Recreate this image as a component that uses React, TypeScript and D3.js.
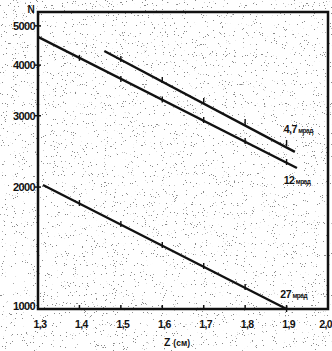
import * as d3 from 'd3';
import { useEffect, useRef } from 'react';

// (N on log scale vs Z in cm)
const zTicks = [1.3, 1.4, 1.5, 1.6, 1.7, 1.8, 1.9, 2.0];
const nTicks = [1000, 2000, 3000, 4000, 5000];

// line end points
const line47Z = [1.46, 1.92];
const line47N = [4335, 2442];
const line12Z = [1.3, 1.925];
const line12N = [4695, 2229];
const line27Z = [1.312, 1.9];
const line27N = [2024, 1000];

// marked measurement points
const pts47Z = [1.5, 1.6, 1.7, 1.8, 1.9];
const pts47N = [4143, 3675, 3263, 2896, 2570];
const pts12Z = [1.4, 1.5, 1.6, 1.7, 1.8, 1.9];
const pts12N = [4168, 3698, 3290, 2929, 2598, 2306];
const pts27Z = [1.4, 1.5, 1.6, 1.7, 1.8, 1.9];
const pts27N = [1827, 1622, 1439, 1277, 1133, 1000];

const labels = [
    { num: '4,7', unit: 'мрад', z: 1.893, n: 2720 },
    { num: '12', unit: 'мрад', z: 1.893, n: 2040 },
    { num: '27', unit: 'мрад', z: 1.885, n: 1065 },
];

const App = () => {
    const svgRef = useRef(null);

    useEffect(() => {
        const width = 332;
        const height = 351;
        const left = 38;
        const right = 328;
        const top = 12;
        const bottom = 309;

        const svg = d3.select(svgRef.current);
        svg.selectAll('*').remove();
        svg.attr('width', width).attr('height', height);

        const font = '"Liberation Sans", Arial, sans-serif';

        // scanned paper speckle (sparse dark dots)
        const defs = svg.append('defs');
        const filter = defs.append('filter').attr('id', 'speckle').attr('x', 0).attr('y', 0).attr('width', 1).attr('height', 1);
        filter.append('feTurbulence')
            .attr('type', 'fractalNoise')
            .attr('baseFrequency', 0.9)
            .attr('numOctaves', 2)
            .attr('seed', 7)
            .attr('result', 'noise');
        filter.append('feColorMatrix')
            .attr('in', 'noise')
            .attr('type', 'matrix')
            .attr('values', '0 0 0 0 0.15  0 0 0 0 0.15  0 0 0 0 0.15  -30 0 0 0 8.8');

        svg.append('rect').attr('width', width).attr('height', height).attr('fill', '#fff');
        svg.append('rect').attr('width', width).attr('height', height).attr('filter', 'url(#speckle)').attr('opacity', 0.8);

        const x = d3.scaleLinear().domain([1.3, 2.0]).range([left, right]);
        const y = d3.scaleLog().domain([1000, 5410]).range([bottom, top]);

        // frame
        svg.append('rect')
            .attr('x', left)
            .attr('y', top)
            .attr('width', right - left)
            .attr('height', bottom - top)
            .attr('fill', 'none')
            .attr('stroke', '#111')
            .attr('stroke-width', 2.5);

        // x ticks (inside)
        svg.append('g')
            .selectAll('line')
            .data(zTicks.slice(1, -1))
            .enter()
            .append('line')
            .attr('x1', (d) => x(d))
            .attr('x2', (d) => x(d))
            .attr('y1', bottom)
            .attr('y2', bottom - 4)
            .attr('stroke', '#111')
            .attr('stroke-width', 1.5);

        svg.append('g')
            .selectAll('text')
            .data(zTicks)
            .enter()
            .append('text')
            .attr('x', (d) => (d === 2.0 ? 332 : x(d) + 2))
            .attr('y', 328)
            .attr('text-anchor', (d) => (d === 2.0 ? 'end' : 'middle'))
            .style('font-family', font)
            .style('font-weight', 'bold')
            .style('font-size', '10.5px')
            .style('letter-spacing', '-0.6px')
            .attr('fill', '#111')
            .text((d) => d.toFixed(1).replace('.', ','));

        // y ticks
        svg.append('g')
            .selectAll('line')
            .data(nTicks.slice(1))
            .enter()
            .append('line')
            .attr('x1', left - 3)
            .attr('x2', left + 3)
            .attr('y1', (d) => y(d))
            .attr('y2', (d) => y(d))
            .attr('stroke', '#111')
            .attr('stroke-width', 1.5);

        svg.append('g')
            .selectAll('text')
            .data(nTicks)
            .enter()
            .append('text')
            .attr('x', 35)
            .attr('y', (d) => y(d) + (d === 1000 ? 1 : 4))
            .attr('text-anchor', 'end')
            .style('font-family', font)
            .style('font-weight', 'bold')
            .style('font-size', '11px')
            .style('letter-spacing', '-0.6px')
            .attr('fill', '#111')
            .text((d) => d);

        svg.append('text')
            .attr('x', 31)
            .attr('y', 13)
            .attr('text-anchor', 'middle')
            .style('font-family', font)
            .style('font-weight', 'bold')
            .style('font-size', '10px')
            .attr('fill', '#111')
            .text('N');

        const zLabel = svg.append('text')
            .attr('x', 164)
            .attr('y', 346)
            .style('font-family', font)
            .style('font-weight', 'bold')
            .style('font-size', '10.5px')
            .attr('fill', '#111');
        zLabel.append('tspan').text('Z ');
        zLabel.append('tspan').style('font-size', '8.5px').text('(см)');

        // lines
        const lineGen = d3
            .line()
            .x((d) => x(d[0]))
            .y((d) => y(d[1]));

        const series = [
            [line47Z, line47N, pts47Z, pts47N],
            [line12Z, line12N, pts12Z, pts12N],
            [line27Z, line27N, pts27Z, pts27N],
        ];

        series.forEach(([lz, ln, pz, pn]) => {
            svg.append('path')
                .datum(lz.map((z, i) => [z, ln[i]]))
                .attr('d', lineGen)
                .attr('fill', 'none')
                .attr('stroke', '#111')
                .attr('stroke-width', 2.4);

            svg.append('g')
                .selectAll('line')
                .data(pz.map((z, i) => [z, pn[i]]))
                .enter()
                .append('line')
                .attr('x1', (d) => x(d[0]))
                .attr('x2', (d) => x(d[0]))
                .attr('y1', (d) => y(d[1]) - 3)
                .attr('y2', (d) => y(d[1]) + 3)
                .attr('stroke', '#111')
                .attr('stroke-width', 1.4);
        });

        // line labels
        labels.forEach((l) => {
            const t = svg.append('text')
                .attr('x', x(l.z))
                .attr('y', y(l.n))
                .style('font-family', font)
                .style('font-weight', 'bold')
                .style('font-size', '10.5px')
                .style('letter-spacing', '-0.5px')
                .attr('fill', '#111');
            t.append('tspan').text(l.num);
            t.append('tspan').attr('dx', 1.5).style('font-size', '6.5px').text(l.unit);
        });
    }, []);

    return <svg ref={svgRef} style={{ position: 'absolute', left: 0, top: 0 }} />;
};

export default App;
